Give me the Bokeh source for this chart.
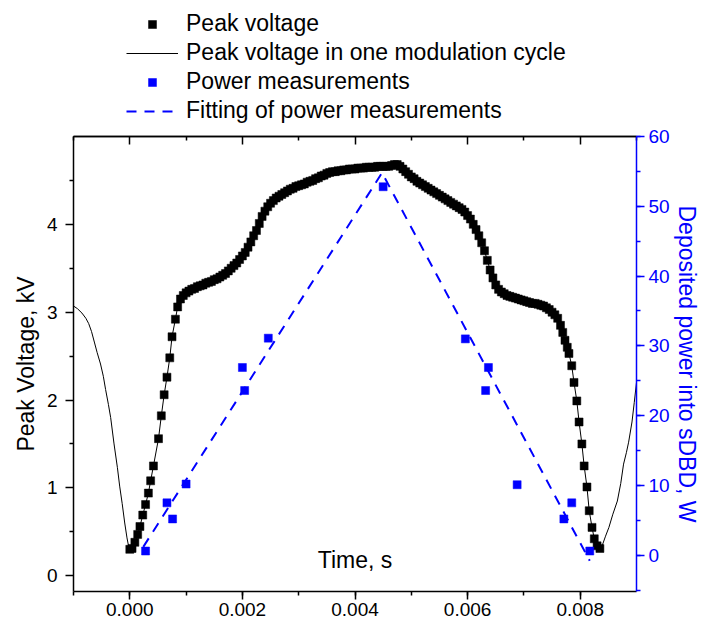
from bokeh.plotting import figure
from bokeh.layouts import column
from bokeh.models import (Range1d, LinearAxis, SingleIntervalTicker, NumeralTickFormatter,
                          FixedTicker, Legend, LegendItem, Label)
from bokeh.embed import file_html
from bokeh.resources import INLINE

# ---------------- data ----------------
# Peak voltage squares: time in ms, voltage in kV
peak_time_ms = [
    0.00, 0.04, 0.09, 0.14, 0.18, 0.23, 0.28, 0.33, 0.37, 0.42,
    0.51, 0.56, 0.61, 0.66, 0.71, 0.75, 0.81, 0.85, 0.90, 0.95,
    1.00, 1.05, 1.10, 1.15, 1.20, 1.25, 1.30, 1.35, 1.40, 1.45,
    1.50, 1.55, 1.60, 1.65, 1.70, 1.75, 1.80, 1.85, 1.90, 1.95,
    2.00, 2.05, 2.10, 2.15, 2.20, 2.25, 2.30, 2.35, 2.40, 2.45,
    2.50, 2.55, 2.60, 2.65, 2.70, 2.75, 2.80, 2.85, 2.90, 2.95,
    3.00, 3.05, 3.10, 3.15, 3.20, 3.25, 3.30, 3.35, 3.40, 3.45,
    3.50, 3.55, 3.60, 3.65, 3.70, 3.75, 3.80, 3.85, 3.90, 3.95,
    4.00, 4.05, 4.10, 4.15, 4.20, 4.25, 4.30, 4.35, 4.40, 4.45,
    4.50, 4.55, 4.60, 4.65, 4.70, 4.75, 4.80, 4.85, 4.90, 4.95,
    5.00, 5.05, 5.10, 5.15, 5.20, 5.25, 5.30, 5.35, 5.40, 5.45,
    5.50, 5.55, 5.60, 5.65, 5.70, 5.75, 5.80, 5.85, 5.90, 5.95,
    6.00, 6.05, 6.10, 6.15, 6.20, 6.25, 6.30, 6.35, 6.40, 6.45,
    6.50, 6.55, 6.60, 6.65, 6.70, 6.75, 6.80, 6.85, 6.90, 6.95,
    7.00, 7.05, 7.10, 7.15, 7.20, 7.25, 7.30, 7.35, 7.40, 7.45,
    7.50, 7.55, 7.60, 7.65, 7.69, 7.73, 7.77, 7.80, 7.85, 7.89,
    7.94, 7.98, 8.03, 8.07, 8.12, 8.16, 8.21, 8.25, 8.30, 8.35,
]
peak_voltage_kv = [
    0.30, 0.31, 0.38, 0.47, 0.56, 0.69, 0.81, 0.94, 1.08, 1.25,
    1.56, 1.82, 2.06, 2.26, 2.48, 2.72, 2.92, 3.06, 3.15, 3.19,
    3.22, 3.24, 3.26, 3.27, 3.29, 3.30, 3.31, 3.33, 3.34, 3.35,
    3.37, 3.38, 3.40, 3.42, 3.44, 3.47, 3.50, 3.53, 3.56, 3.60,
    3.64, 3.68, 3.74, 3.80, 3.87, 3.93, 4.01, 4.09, 4.15, 4.20,
    4.24, 4.27, 4.30, 4.32, 4.34, 4.36, 4.38, 4.40, 4.41, 4.43,
    4.44, 4.45, 4.46, 4.48, 4.49, 4.50, 4.52, 4.53, 4.55, 4.56,
    4.58, 4.59, 4.60, 4.60, 4.61, 4.61, 4.62, 4.62, 4.63, 4.63,
    4.63, 4.64, 4.64, 4.64, 4.65, 4.65, 4.65, 4.65, 4.66, 4.66,
    4.66, 4.66, 4.66, 4.67, 4.68, 4.68, 4.66, 4.63, 4.60, 4.57,
    4.54, 4.52, 4.49, 4.47, 4.45, 4.43, 4.41, 4.39, 4.37, 4.35,
    4.33, 4.31, 4.29, 4.27, 4.25, 4.23, 4.21, 4.19, 4.17, 4.14,
    4.10, 4.06, 4.00, 3.94, 3.87, 3.79, 3.70, 3.59, 3.48, 3.39,
    3.31, 3.26, 3.23, 3.21, 3.19, 3.18, 3.17, 3.16, 3.15, 3.14,
    3.13, 3.12, 3.11, 3.10, 3.10, 3.09, 3.08, 3.07, 3.05, 3.03,
    3.00, 2.97, 2.93, 2.85, 2.77, 2.68, 2.60, 2.53, 2.39, 2.20,
    1.99, 1.75, 1.50, 1.25, 1.01, 0.74, 0.55, 0.42, 0.34, 0.31,
]

# Continuation of the modulation-cycle line outside the measured squares
cycle_before_time_ms = [-1.00, -0.93, -0.85, -0.78, -0.73, -0.68, -0.63, -0.58, -0.52, -0.47,
                        -0.43, -0.38, -0.34, -0.28, -0.22, -0.18, -0.135, -0.09, -0.05, -0.02]
cycle_before_kv = [3.07, 3.04, 2.99, 2.93, 2.87, 2.78, 2.66, 2.54, 2.41, 2.27,
                   2.12, 1.95, 1.80, 1.50, 1.23, 1.02, 0.82, 0.60, 0.43, 0.33]
cycle_after_time_ms = [8.40, 8.45, 8.51, 8.58, 8.66, 8.72, 8.77, 8.82, 8.86, 8.92, 8.96, 9.00]
cycle_after_kv = [0.36, 0.45, 0.55, 0.70, 0.85, 1.05, 1.27, 1.40, 1.52, 1.75, 1.97, 2.20]

# Power measurements (time in s, power in W)
power_time_s = [0.00028, 0.00066, 0.00076, 0.00100, 0.00200, 0.00204, 0.00246, 0.00450,
                0.00596, 0.00632, 0.00637, 0.00688, 0.00771, 0.00785, 0.00817]
power_w = [0.6, 7.5, 5.2, 10.2, 26.9, 23.6, 31.1, 52.8,
           31.0, 23.6, 26.9, 10.1, 5.2, 7.5, 0.6]

# Fitting of power measurements
fit_time_s = [0.00024, 0.00448, 0.00817]
fit_w = [1.2, 54.8, -0.8]

# Axis ticks
x_major_ticks = [0.000, 0.002, 0.004, 0.006, 0.008]
x_minor_ticks = [-0.001, 0.001, 0.003, 0.005, 0.007, 0.009]
v_major_ticks = [0, 1, 2, 3, 4]
v_minor_ticks = [0.5, 1.5, 2.5, 3.5, 4.5]

legend_labels = ["Peak voltage", "Peak voltage in one modulation cycle",
                 "Power measurements", "Fitting of power measurements"]

# ---------------- styles ----------------
FONT = "Liberation Sans"
BLUE = "#0000FF"
LEGEND_H = 124

peak_t = [v / 1000.0 for v in peak_time_ms]
line_t = [v / 1000.0 for v in cycle_before_time_ms] + peak_t + [v / 1000.0 for v in cycle_after_time_ms]
line_v = cycle_before_kv + peak_voltage_kv + cycle_after_kv

# ---------------- legend strip (above the plot) ----------------
lg = figure(width=703, height=LEGEND_H, output_backend="svg", toolbar_location=None,
            x_range=Range1d(0, 1), y_range=Range1d(0, 1),
            x_axis_location=None, y_axis_location=None,
            min_border_left=0, min_border_right=0, min_border_top=0, min_border_bottom=0)
lg.outline_line_color = None
lg.xgrid.visible = False
lg.ygrid.visible = False
# proxies placed outside the visible range: only their legend glyphs show
l_peak = lg.scatter([-5], [-5], marker="square", size=8, fill_color="black",
                    line_color="black", line_width=0.5)
l_line = lg.line([-5, -4], [-5, -4], line_color="black", line_width=1)
l_pow = lg.scatter([-5], [-5], marker="square", size=8, fill_color=BLUE,
                   line_color=BLUE, line_width=0.5)
l_fit = lg.line([-5, -4], [-5, -4], line_color=BLUE, line_width=2, line_dash="10 8")

legend = Legend(items=[
    LegendItem(label=legend_labels[0], renderers=[l_peak]),
    LegendItem(label=legend_labels[1], renderers=[l_line]),
    LegendItem(label=legend_labels[2], renderers=[l_pow]),
    LegendItem(label=legend_labels[3], renderers=[l_fit]),
], location=(53, 0), orientation="vertical",
    border_line_color=None, background_fill_alpha=0, padding=0, margin=0,
    spacing=2, glyph_width=52, glyph_height=20, label_standoff=8,
    label_text_font=FONT, label_text_font_size="23px", label_height=26,
    label_text_color="black")
lg.add_layout(legend)

# ---------------- main plot ----------------
p = figure(width=703, height=623 - LEGEND_H, output_backend="svg", toolbar_location=None,
           x_range=Range1d(-0.001, 0.009), y_range=Range1d(-0.18, 5.0),
           x_axis_location=None, y_axis_location=None,
           min_border_left=73, min_border_right=67, min_border_top=136 - LEGEND_H,
           min_border_bottom=32)
p.extra_y_ranges = {"power": Range1d(-5.2, 60)}
p.outline_line_color = None
p.background_fill_color = "white"
p.border_fill_color = "white"
p.xgrid.visible = False
p.ygrid.visible = False


def style_axis(ax, color="black"):
    ax.axis_line_color = color
    ax.axis_line_width = 1.5
    ax.major_tick_line_color = color
    ax.minor_tick_line_color = color
    ax.major_tick_line_width = 1.5
    ax.minor_tick_line_width = 1.5
    ax.major_label_text_color = color
    ax.major_label_text_font = FONT
    ax.major_label_text_font_size = "19px"
    ax.axis_label_text_color = color
    ax.axis_label_text_font = FONT
    ax.axis_label_text_font_size = "23px"
    ax.axis_label_text_font_style = "normal"


# bottom axis
xb = LinearAxis(ticker=SingleIntervalTicker(interval=0.002, num_minor_ticks=2),
                formatter=NumeralTickFormatter(format="0.000"))
style_axis(xb)
xb.major_tick_out = 8
xb.major_tick_in = 0
xb.minor_tick_out = 4
xb.minor_tick_in = 0
xb.major_label_standoff = 3
p.add_layout(xb, "below")

# top frame: two label-less tick rows pointing inward (long at majors, short at minors)
for ticks, length in ((x_minor_ticks, 4), (x_major_ticks, 8)):
    ax = LinearAxis(ticker=FixedTicker(ticks=[], minor_ticks=ticks))
    style_axis(ax)
    ax.major_tick_in = 0
    ax.major_tick_out = 0
    ax.minor_tick_out = 0
    ax.minor_tick_in = length
    ax.major_label_standoff = 0
    ax.axis_label_standoff = 0
    p.add_layout(ax, "above")

# left axis
yl = LinearAxis(ticker=FixedTicker(ticks=v_major_ticks, minor_ticks=v_minor_ticks),
                axis_label="Peak Voltage, kV")
style_axis(yl)
yl.major_tick_out = 8
yl.major_tick_in = 0
yl.minor_tick_out = 4
yl.minor_tick_in = 0
yl.major_label_standoff = 8
yl.axis_label_standoff = 5
p.add_layout(yl, "left")

# right axis (power)
yr = LinearAxis(y_range_name="power", ticker=SingleIntervalTicker(interval=10, num_minor_ticks=2),
                axis_label="Deposited power into sDBD, W")
style_axis(yr, color=BLUE)
yr.major_tick_out = 8
yr.major_tick_in = 0
yr.minor_tick_out = 4
yr.minor_tick_in = 0
yr.major_label_standoff = 4
yr.axis_label_standoff = 1
p.add_layout(yr, "right")

# data
p.line(line_t, line_v, line_color="black", line_width=1)
p.scatter(peak_t, peak_voltage_kv, marker="square", size=8,
          fill_color="black", line_color="black", line_width=0.5)
p.line(fit_time_s, fit_w, y_range_name="power", line_color=BLUE,
       line_width=2, line_dash="10 8")
p.scatter(power_time_s, power_w, y_range_name="power", marker="square", size=8,
          fill_color=BLUE, line_color=BLUE, line_width=0.5)

p.add_layout(Label(x=0.004, y=0.175, text="Time, s", text_align="center",
                   text_baseline="alphabetic", text_font=FONT, text_font_size="23px",
                   text_color="black"))

layout = column(lg, p, spacing=0)
open("out.html", "w").write(file_html(layout, INLINE))
